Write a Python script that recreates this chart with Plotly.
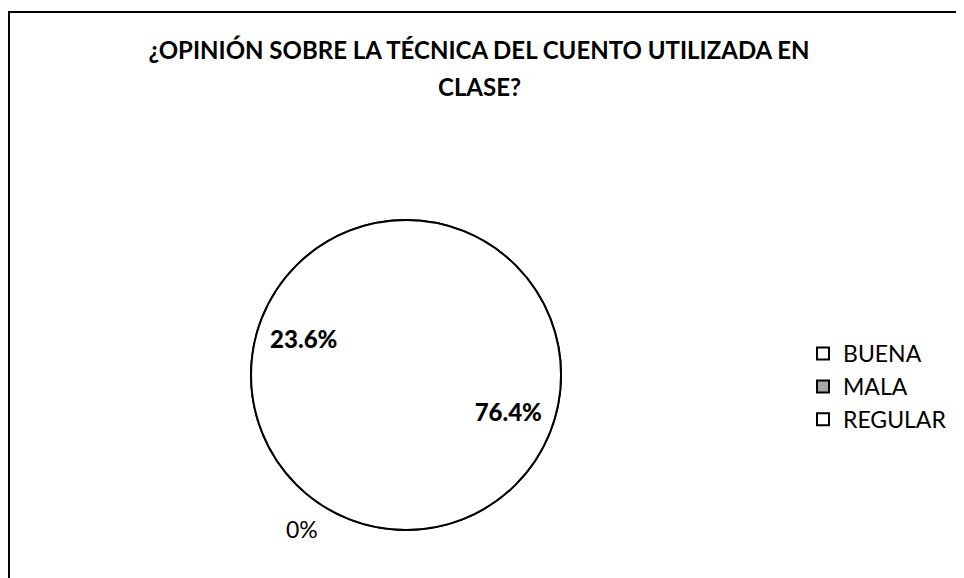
import plotly.graph_objects as go

# Data
labels = ["BUENA", "MALA", "REGULAR"]
values = [76.4, 23.6, 0]
slice_colors = ["white", "#a6a6a6", "white"]
title_line1 = "¿OPINIÓN SOBRE LA TÉCNICA DEL CUENTO UTILIZADA EN"
title_line2 = "CLASE?"

# the page adds an 8px body margin, positions below are set for that
PIE_DOMAIN = dict(x=[0.2521, 0.5737], y=[0.0969, 0.6332])
FONT = "Lato"

fig = go.Figure()

# legend-carrying pie (its slice borders are hidden under the overlay)
fig.add_trace(go.Pie(
    labels=labels, values=values, sort=False, direction="clockwise",
    domain=PIE_DOMAIN, textinfo="none", hoverinfo="skip",
    marker=dict(colors=slice_colors, line=dict(color="black", width=2)),
))
# plain white disc with a black outline, like the original chart
fig.add_trace(go.Pie(
    labels=["total"], values=[sum(values)], sort=False, showlegend=False,
    domain=PIE_DOMAIN, textinfo="none", hoverinfo="skip",
    marker=dict(colors=["white"], line=dict(color="black", width=2)),
))
# percentage labels on top (transparent; the hole pushes labels outward)
fig.add_trace(go.Pie(
    labels=labels, values=values, sort=False, direction="clockwise",
    rotation=-28, hole=0.4, showlegend=False, domain=PIE_DOMAIN,
    texttemplate=["%{value}%", "%{value}%", ""],
    textposition="inside", insidetextorientation="horizontal",
    textfont=dict(family=FONT, size=24, color="black", weight=900),
    marker=dict(colors=["rgba(0,0,0,0)"] * 3, line=dict(width=0)),
    hoverinfo="label+percent",
))

fig.add_annotation(
    x=0.286, y=0.0715, xref="paper", yref="paper",
    text=f"{values[2]:g}%", showarrow=False,
    font=dict(family=FONT, size=23, color="black"),
)
fig.add_annotation(
    x=0.4886, y=0.865, xref="paper", yref="paper", yanchor="middle",
    text=f"<b>{title_line2}</b>", showarrow=False,
    font=dict(family=FONT, size=24, color="black"),
)

fig.add_shape(
    type="rect", xref="paper", yref="paper",
    x0=0.001, x1=1.05, y0=-0.05, y1=0.993,
    line=dict(color="black", width=2),
)

fig.update_layout(
    width=964, height=578,
    paper_bgcolor="white", plot_bgcolor="white",
    margin=dict(l=0, r=0, t=0, b=0),
    title=dict(
        text=title_line1, x=0.4886, xanchor="center", y=0.927, yanchor="middle",
        font=dict(family=FONT, size=24, color="black", weight="bold"),
    ),
    legend=dict(
        x=0.8247, y=0.4394, xanchor="left", yanchor="top",
        font=dict(family=FONT, size=23, color="black"),
        traceorder="normal",
    ),
)

fig.write_html("out.html")
